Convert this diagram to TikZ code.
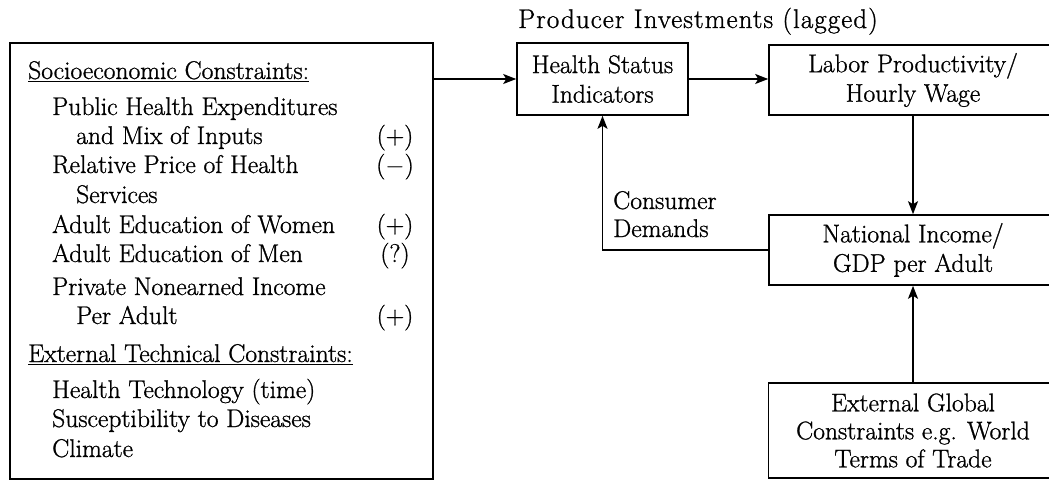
\documentclass[tikz,border=0pt]{standalone}
\usepackage{fontspec}
\setmainfont{Latin Modern Roman}[FakeBold=1]
\usetikzlibrary{arrows.meta}
\begin{document}
\begin{tikzpicture}[x=1pt,y=-1pt,
  every node/.style={font=\fontsize{25.6}{29.5}\selectfont},
  box/.style={draw, line width=1.6pt, inner sep=0pt, align=center},
  txt/.style={inner sep=0pt, anchor=base west},
  sign/.style={inner sep=0pt, anchor=base},
  arr/.style={line width=1.6pt, -{Stealth[length=13pt,width=10pt,inset=3pt]}}]
\useasboundingbox (0,0) rectangle (1049,484);
\clip (0,0) rectangle (1049,484);

% constraint panel on the left
\node[box, minimum width=423pt, minimum height=436pt, anchor=north west] (cons) at (9,42) {};
\node[txt] (soc)  at (28,79)  {\underline{Socioeconomic Constraints:}};
\node[txt] (l1)   at (52,115) {Public Health Expenditures};
\node[txt] (l2)   at (76,144) {and Mix of Inputs};
\node[txt] (l3)   at (52,173) {Relative Price of Health};
\node[txt] (l4)   at (76,203) {Services};
\node[txt] (l5)   at (52,233) {Adult Education of Women};
\node[txt] (l6)   at (52,262) {Adult Education of Men};
\node[txt] (l7)   at (52,295) {Private Nonearned Income};
\node[txt] (l8)   at (76,324) {Per Adult};
\node[txt] (ext)  at (28,362) {\underline{External Technical Constraints:}};
\node[txt] (t1)   at (52,398) {Health Technology (time)};
\node[txt] (t2)   at (52,427) {Susceptibility to Diseases};
\node[txt] (t3)   at (52,457) {Climate};

% signs of the effects
\node[sign] (s1) at (395,144) {(+)};
\node[sign] (s2) at (395,173) {($-$)};
\node[sign] (s3) at (395,233) {(+)};
\node[sign] (s4) at (395,262) {(?)};
\node[sign] (s5) at (395,324) {(+)};

% chain of outcomes
\node[box, minimum width=171pt, minimum height=72pt] (health) at (602.5,79) {Health Status\\Indicators};
\node[box, minimum width=288pt, minimum height=70pt] (labor) at (913,80) {Labor Productivity/\\Hourly Wage};
\node[box, minimum width=288pt, minimum height=70pt] (natinc) at (913,250) {National Income/\\GDP per Adult};
\node[box, minimum width=289pt, minimum height=95pt, font=\fontsize{25.6}{28}\selectfont] (glob) at (913,430.5) {External Global\\Constraints e.g. World\\Terms of Trade};

% labels
\node[txt, font=\fontsize{27}{29.5}\selectfont\addfontfeatures{LetterSpace=4}] (prod) at (518,28) {Producer Investments (lagged)};
\node[txt] (cd1) at (613,209) {Consumer};
\node[txt] (cd2) at (613,237) {Demands};

% connectors
\draw[arr] (cons.east |- health.west) -- (health.west);
\draw[arr] (health.east) -- (health.east -| labor.west);
\draw[arr] (labor.south) -- (natinc.north);
\draw[arr] (glob.north) -- (natinc.south);
\draw[arr] (natinc.west) -| (health.south);
\end{tikzpicture}
\end{document}
